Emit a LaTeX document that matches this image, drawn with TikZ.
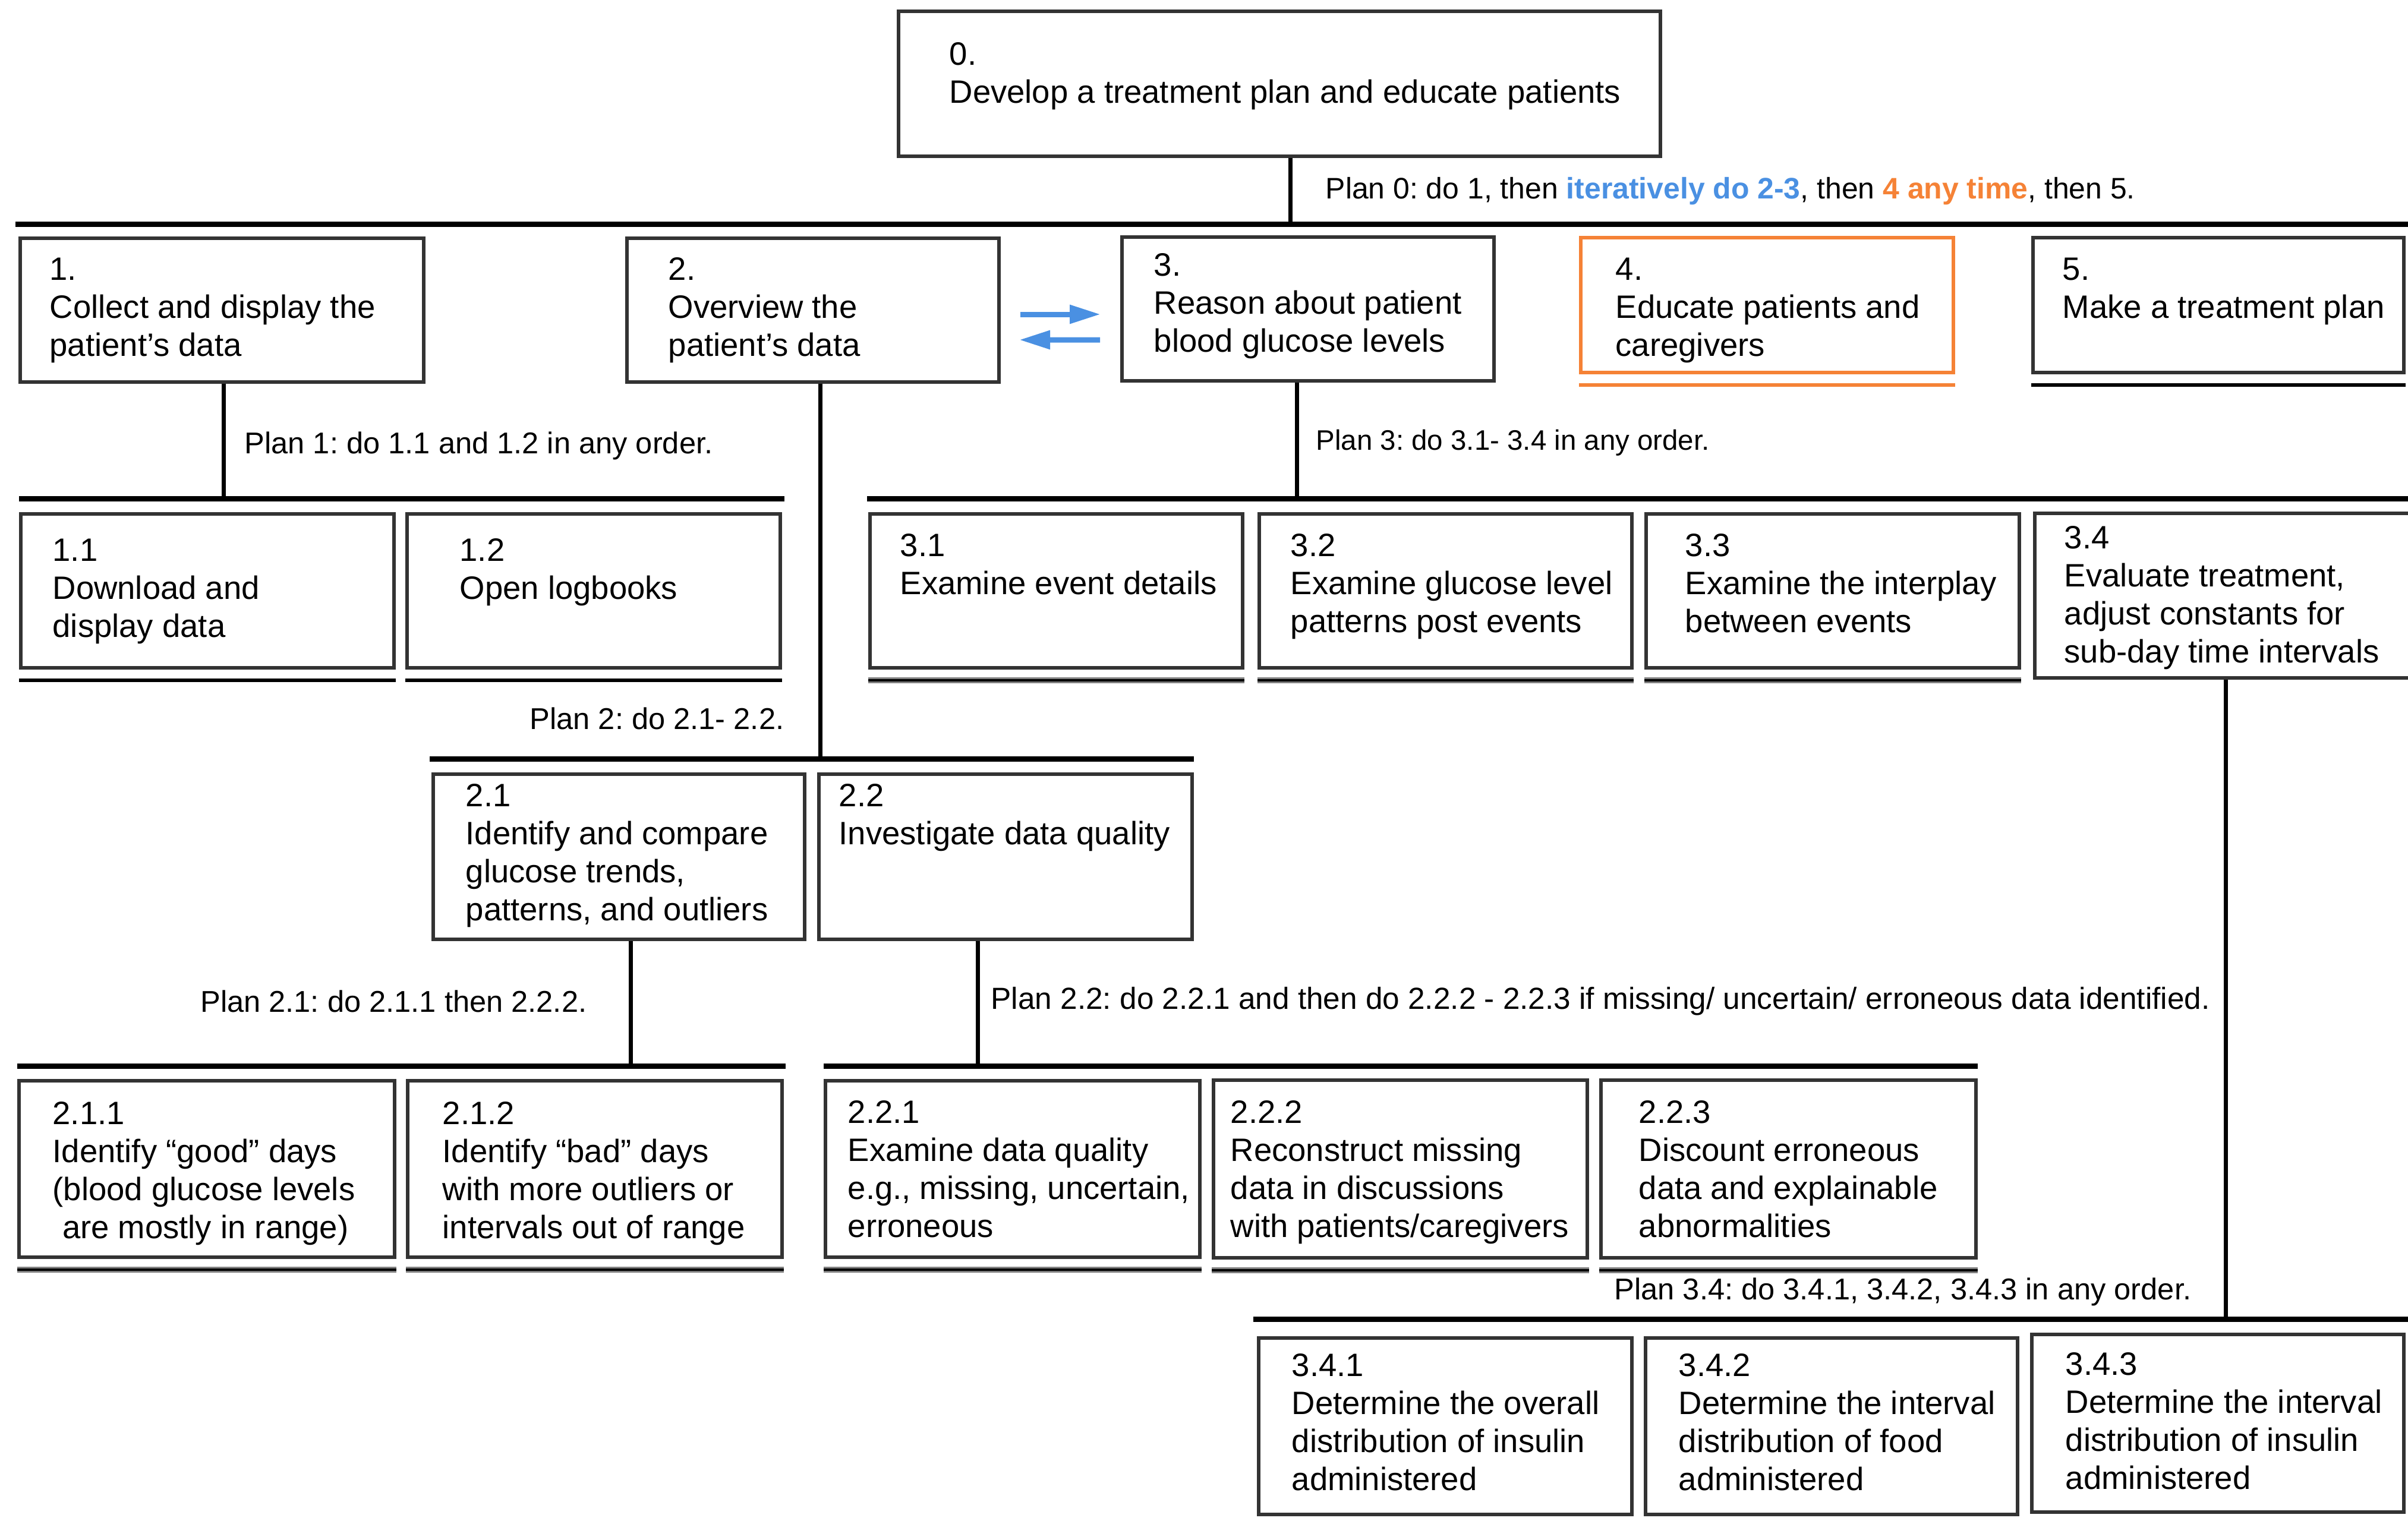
\documentclass[tikz,border=0pt]{standalone}
\usepackage{fontspec}
\setmainfont{Liberation Sans}
\usepackage{tikz}
\usetikzlibrary{arrows.meta, positioning}
\frenchspacing
\definecolor{boxgray}{RGB}{51,51,51}
\definecolor{planblue}{RGB}{74,144,226}
\definecolor{planorange}{RGB}{245,130,54}
\definecolor{stopgray}{RGB}{128,128,128}
\tikzset{
  task/.style 2 args={rectangle, draw=boxgray, line width=0.06cm, fill=white, anchor=north west, inner sep=0pt, minimum width=#1, minimum height=#2},
  txt/.style={anchor=north west, align=left, inner sep=0pt, font=\fontsize{15.5}{18.2}\selectfont},
  plan/.style={inner sep=0pt, font=\fontsize{14.4}{17}\selectfont},
  hbar/.style={line width=0.09cm, black},
  conn/.style={line width=0.07cm, black},
  endbar/.style={line width=0.06cm, black},
  endbargray/.style={line width=0.03cm, draw=stopgray, double=black, double distance=0.04cm},
  swaparr/.style={line width=0.09cm, planblue, -{Triangle[length=0.52cm, width=0.30cm]}},
}

\begin{document}
\begin{tikzpicture}
  \useasboundingbox (0,0) rectangle (40.52,-25.60);

  % level 0 and 1
  \node[task={12.82cm}{2.44cm}, label={[txt, xshift=0.88cm, yshift=-0.55cm]north west:{0.\\Develop a treatment plan and educate patients}}] (b0) at (15.09,-0.16) {};
  \node[task={6.79cm}{2.42cm}, label={[txt, xshift=0.52cm, yshift=-0.35cm]north west:{1.\\Collect and display the\\patient’s data}}] (b1) at (0.31,-3.98) {};
  \node[task={6.26cm}{2.42cm}, label={[txt, xshift=0.72cm, yshift=-0.35cm]north west:{2.\\Overview the\\patient’s data}}] (b2) at (10.52,-3.98) {};
  \node[task={6.26cm}{2.42cm}, label={[txt, xshift=0.56cm, yshift=-0.30cm]north west:{3.\\Reason about patient\\blood glucose levels}}] (b3) at (18.85,-3.96) {};
  \node[task={6.27cm}{2.27cm}, draw=planorange, label={[txt, xshift=0.61cm, yshift=-0.36cm]north west:{4.\\Educate patients and\\caregivers}}] (b4) at (26.57,-3.97) {};
  \node[task={6.24cm}{2.27cm}, label={[txt, xshift=0.52cm, yshift=-0.36cm]north west:{5.\\Make a treatment plan}}] (b5) at (34.18,-3.97) {};

  % level 2
  \node[task={6.28cm}{2.59cm}, label={[txt, xshift=0.56cm, yshift=-0.44cm]north west:{1.1\\Download and\\display data}}] (b11) at (0.32,-8.62) {};
  \node[task={6.28cm}{2.59cm}, label={[txt, xshift=0.91cm, yshift=-0.44cm]north west:{1.2\\Open logbooks}}] (b12) at (6.82,-8.62) {};
  \node[task={6.27cm}{2.59cm}, label={[txt, xshift=0.53cm, yshift=-0.36cm]north west:{3.1\\Examine event details}}] (b31) at (14.61,-8.62) {};
  \node[task={6.27cm}{2.59cm}, label={[txt, xshift=0.55cm, yshift=-0.36cm]north west:{3.2\\Examine glucose level\\patterns post events}}] (b32) at (21.16,-8.62) {};
  \node[task={6.28cm}{2.59cm}, label={[txt, xshift=0.68cm, yshift=-0.36cm]north west:{3.3\\Examine the interplay\\between events}}] (b33) at (27.67,-8.62) {};
  \node[task={6.45cm}{2.77cm}, label={[txt, xshift=0.52cm, yshift=-0.24cm]north west:{3.4\\Evaluate treatment,\\adjust constants for\\sub-day time intervals}}] (b34) at (34.21,-8.61) {};
  \node[task={6.25cm}{2.78cm}, label={[txt, xshift=0.57cm, yshift=-0.19cm]north west:{2.1\\Identify and compare\\glucose trends,\\patterns, and outliers}}] (b21) at (7.26,-13.00) {};
  \node[task={6.28cm}{2.78cm}, label={[txt, xshift=0.36cm, yshift=-0.19cm]north west:{2.2\\Investigate data quality}}] (b22) at (13.75,-13.00) {};

  % level 3
  \node[task={6.32cm}{2.97cm}, label={[txt, xshift=0.59cm, yshift=-0.38cm]north west:{2.1.1\\Identify “good” days\\(blood glucose levels\\\hspace{0.3em}are mostly in range)}}] (b211) at (0.29,-18.16) {};
  \node[task={6.30cm}{2.97cm}, label={[txt, xshift=0.61cm, yshift=-0.38cm]north west:{2.1.2\\Identify “bad” days\\with more outliers or\\intervals out of range}}] (b212) at (6.83,-18.16) {};
  \node[task={6.30cm}{2.97cm}, label={[txt, xshift=0.40cm, yshift=-0.36cm]north west:{2.2.1\\Examine data quality\\e.g., missing, uncertain,\\erroneous}}] (b221) at (13.86,-18.16) {};
  \node[task={6.29cm}{2.99cm}, label={[txt, xshift=0.31cm, yshift=-0.37cm]north west:{2.2.2\\Reconstruct missing\\data in discussions\\with patients/caregivers}}] (b222) at (20.39,-18.15) {};
  \node[task={6.31cm}{2.99cm}, label={[txt, xshift=0.66cm, yshift=-0.37cm]north west:{2.2.3\\Discount erroneous\\data and explainable\\abnormalities}}] (b223) at (26.91,-18.15) {};
  \node[task={6.28cm}{2.97cm}, label={[txt, xshift=0.58cm, yshift=-0.29cm]north west:{3.4.1\\Determine the overall\\distribution of insulin\\administered}}] (b341) at (21.15,-22.49) {};
  \node[task={6.26cm}{2.97cm}, label={[txt, xshift=0.58cm, yshift=-0.29cm]north west:{3.4.2\\Determine the interval\\distribution of food\\administered}}] (b342) at (27.66,-22.49) {};
  \node[task={6.26cm}{2.99cm}, label={[txt, xshift=0.59cm, yshift=-0.33cm]north west:{3.4.3\\Determine the interval\\distribution of insulin\\administered}}] (b343) at (34.16,-22.43) {};

  % plans
  \node[plan, anchor=west, font=\fontsize{14.2}{17}\selectfont] (plan0) at (22.30,-3.22) {Plan 0: do 1, then \textcolor{planblue}{\bfseries iteratively do 2-3}, then \textcolor{planorange}{\bfseries 4 any time}, then 5.};
  \node[plan, anchor=west] (plan1) at (4.11,-7.50) {Plan 1: do 1.1 and 1.2 in any order.};
  \node[plan, anchor=west, font=\fontsize{13.5}{16}\selectfont] (plan3) at (22.14,-7.45) {Plan 3: do 3.1- 3.4 in any order.};
  \node[plan, anchor=east] (plan2) at (13.20,-12.09) {Plan 2: do 2.1- 2.2.};
  \node[plan, anchor=east] (plan21) at (9.88,-16.85) {Plan 2.1: do 2.1.1 then 2.2.2.};
  \node[plan, anchor=west, font=\fontsize{14.6}{17}\selectfont] (plan22) at (16.67,-16.85) {Plan 2.2: do 2.2.1 and then do 2.2.2 - 2.2.3 if missing/ uncertain/ erroneous data identified.};
  \node[plan, anchor=east] (plan34) at (36.88,-21.74) {Plan 3.4: do 3.4.1, 3.4.2, 3.4.3 in any order.};

  % bars
  \coordinate (j0) at (21.71,-3.77);
  \coordinate (j1) at (3.76,-8.39);
  \coordinate (j3) at (21.82,-8.39);
  \coordinate (j2) at (13.80,-12.77);
  \coordinate (j21) at (10.61,-17.94);
  \coordinate (j22) at (16.45,-17.94);
  \coordinate (j34) at (37.45,-22.20);
  \draw[hbar] (0.26,-3.77) -- (40.52,-3.77);
  \draw[hbar] (0.32,-8.39) -- (13.20,-8.39);
  \draw[hbar] (14.59,-8.39) -- (40.52,-8.39);
  \draw[hbar] (7.23,-12.77) -- (20.09,-12.77);
  \draw[hbar] (0.29,-17.94) -- (13.22,-17.94);
  \draw[hbar] (13.86,-17.94) -- (33.28,-17.94);
  \draw[hbar] (21.09,-22.20) -- (40.52,-22.20);

  \draw[conn] (b0.south -| j0) -- (j0);
  \draw[conn] (b1.south -| j1) -- (j1);
  \draw[conn] (b3.south -| j3) -- (j3);
  \draw[conn] (b2.south -| j2) -- (j2);
  \draw[conn] (b21.south -| j21) -- (j21);
  \draw[conn] (b22.south -| j22) -- (j22);
  \draw[conn] (b34.south -| j34) -- (j34);

  % end of decomposition
  \foreach \n in {b11, b12, b5}
    \draw[endbar] ([yshift=-0.18cm]\n.south west) -- ([yshift=-0.18cm]\n.south east);
  \draw[endbar, planorange] ([yshift=-0.18cm]b4.south west) -- ([yshift=-0.18cm]b4.south east);
  \foreach \n in {b31, b32, b33, b211, b212, b221, b222, b223}
    \draw[endbargray] ([yshift=-0.18cm]\n.south west) -- ([yshift=-0.18cm]\n.south east);

  \draw[swaparr] ([shift={(0.33,-0.07)}]b2.east) -- ([shift={(-0.33,-0.09)}]b3.west);
  \draw[swaparr] ([shift={(-0.34,-0.52)}]b3.west) -- ([shift={(0.31,-0.50)}]b2.east);
\end{tikzpicture}
\end{document}
